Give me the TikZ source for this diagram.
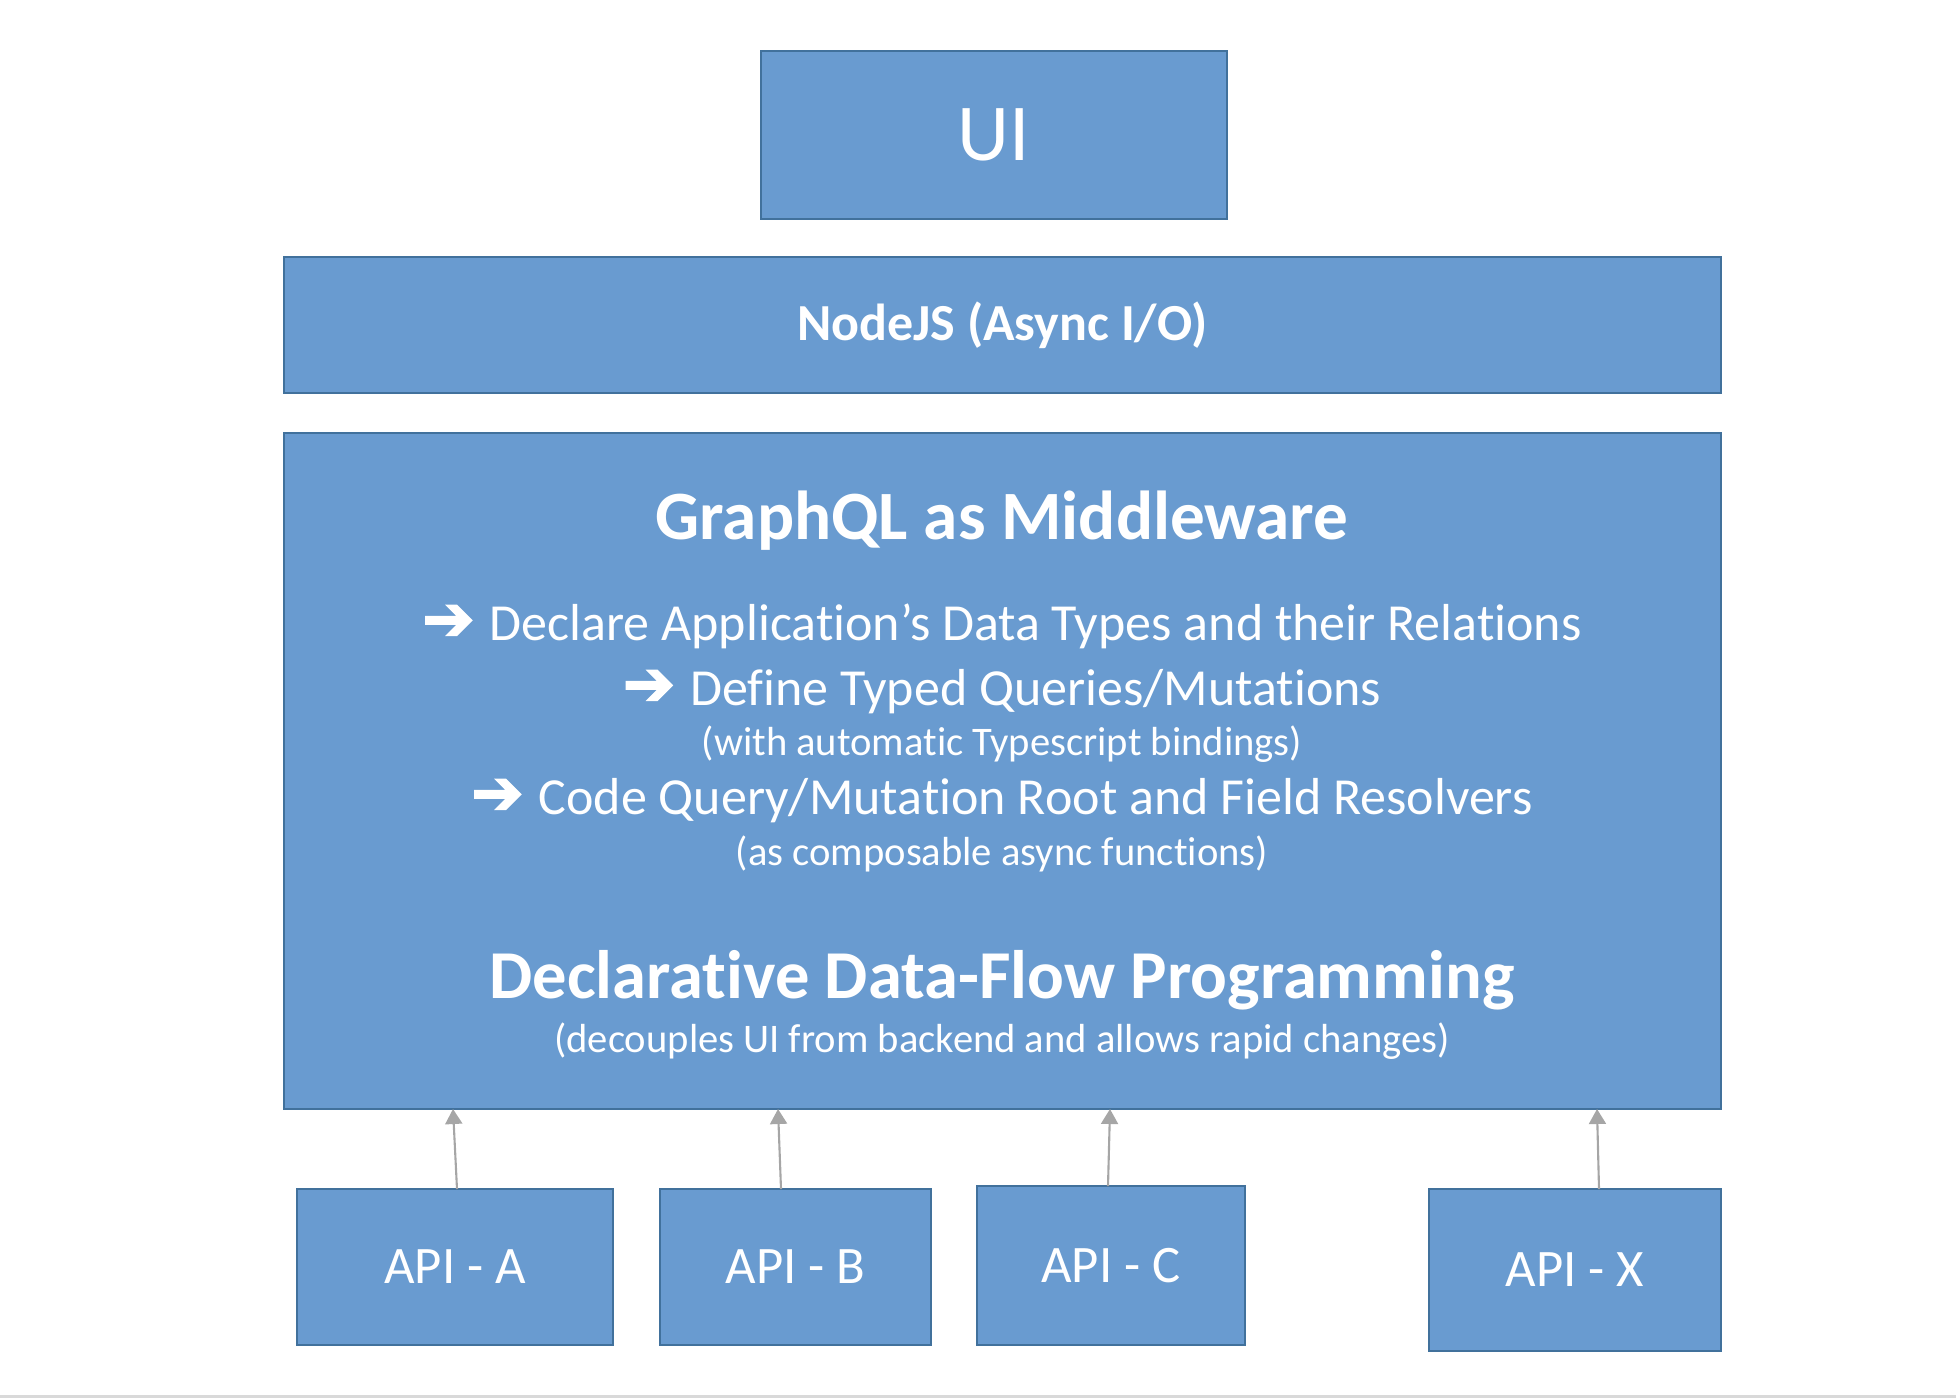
\documentclass[tikz,border=0pt]{standalone}
\usepackage{fontspec}
\setmainfont{Carlito}[Ligatures=NoCommon]
\newfontfamily\symfont{DejaVu Sans}[FakeBold=2.5]
\usepackage{tikz}
\usetikzlibrary{arrows.meta}
\definecolor{boxfill}{HTML}{699BD0}
\definecolor{boxline}{HTML}{41719C}
\definecolor{feedgray}{HTML}{A6A6A6}
\definecolor{rulegray}{HTML}{D9D9D9}

\begin{document}
\begin{tikzpicture}[x=0.1mm,y=-0.1mm,
    box/.style={draw=boxline,fill=boxfill,line width=0.45pt,inner sep=0pt,outer sep=0pt,text=white},
    txt/.style={text=white,inner sep=0pt,anchor=base},
    feed/.style={draw=feedgray,line width=0.6pt,-{Triangle[width=1.7mm,length=1.5mm]}}]
    \useasboundingbox (0,0) rectangle (1956,1398);
    \fill[rulegray] (0,1395) rectangle (1956,1398);

    % layers
    \node[box,minimum width=46.6mm,minimum height=16.8mm,font=\fontsize{23}{23}\selectfont] (ui) at (994,135) {UI};
    \node[box,minimum width=143.7mm,minimum height=13.6mm,font=\bfseries\fontsize{14.8}{15}\selectfont] (node) at (1002.5,325) {NodeJS (Async I/O)};
    \node[box,minimum width=143.7mm,minimum height=67.6mm] (gql) at (1002.5,771) {};

    % middleware text
    \node[txt,font=\bfseries\fontsize{19.7}{20}\selectfont] (gqlTitle) at (1002,539) {GraphQL as Middleware};
    \node[txt,font=\fontsize{14.8}{15}\selectfont] (stepDeclare) at (1002,640) {{\symfont\fontsize{17.8}{18}\selectfont ➔}\hspace{1.5mm}Declare Application’s Data Types and their Relations};
    \node[txt,font=\fontsize{14.8}{15}\selectfont] (stepDefine) at (1002,705) {{\symfont\fontsize{17.8}{18}\selectfont ➔}\hspace{1.5mm}Define Typed Queries/Mutations};
    \node[txt,font=\fontsize{11.55}{12}\selectfont] (noteDefine) at (1002,755) {(with automatic Typescript bindings)};
    \node[txt,font=\fontsize{14.8}{15}\selectfont] (stepCode) at (1002,814) {{\symfont\fontsize{17.8}{18}\selectfont ➔}\hspace{1.5mm}Code Query/Mutation Root and Field Resolvers};
    \node[txt,font=\fontsize{11.55}{12}\selectfont] (noteCode) at (1002,865) {(as composable async functions)};
    \node[txt,font=\bfseries\fontsize{19.5}{20}\selectfont] (flowTitle) at (1002,998) {Declarative Data-Flow Programming};
    \node[txt,font=\fontsize{11.55}{12}\selectfont] (flowNote) at (1002,1052) {(decouples UI from backend and allows rapid changes)};

    % backends
    \node[box,minimum width=31.6mm,minimum height=15.6mm,font=\fontsize{15}{15}\selectfont] (apiA) at (455,1267) {API - A};
    \node[box,minimum width=27.1mm,minimum height=15.6mm,font=\fontsize{15}{15}\selectfont] (apiB) at (795.5,1267) {API - B};
    \node[box,minimum width=26.8mm,minimum height=15.9mm,font=\fontsize{15}{15}\selectfont] (apiC) at (1111,1265.5) {API - C};
    \node[box,minimum width=29.2mm,minimum height=16.2mm,font=\fontsize{15}{15}\selectfont] (apiX) at (1575,1270) {API - X};

    \foreach \api/\from/\to in {apiA/2/-2, apiB/-14.5/-17.5, apiC/-3/-1, apiX/24/22}
        \draw[feed] ([xshift=\from*0.1mm]\api.north) -- ([xshift=\to*0.1mm]\api.north |- gql.south);
\end{tikzpicture}
\end{document}
